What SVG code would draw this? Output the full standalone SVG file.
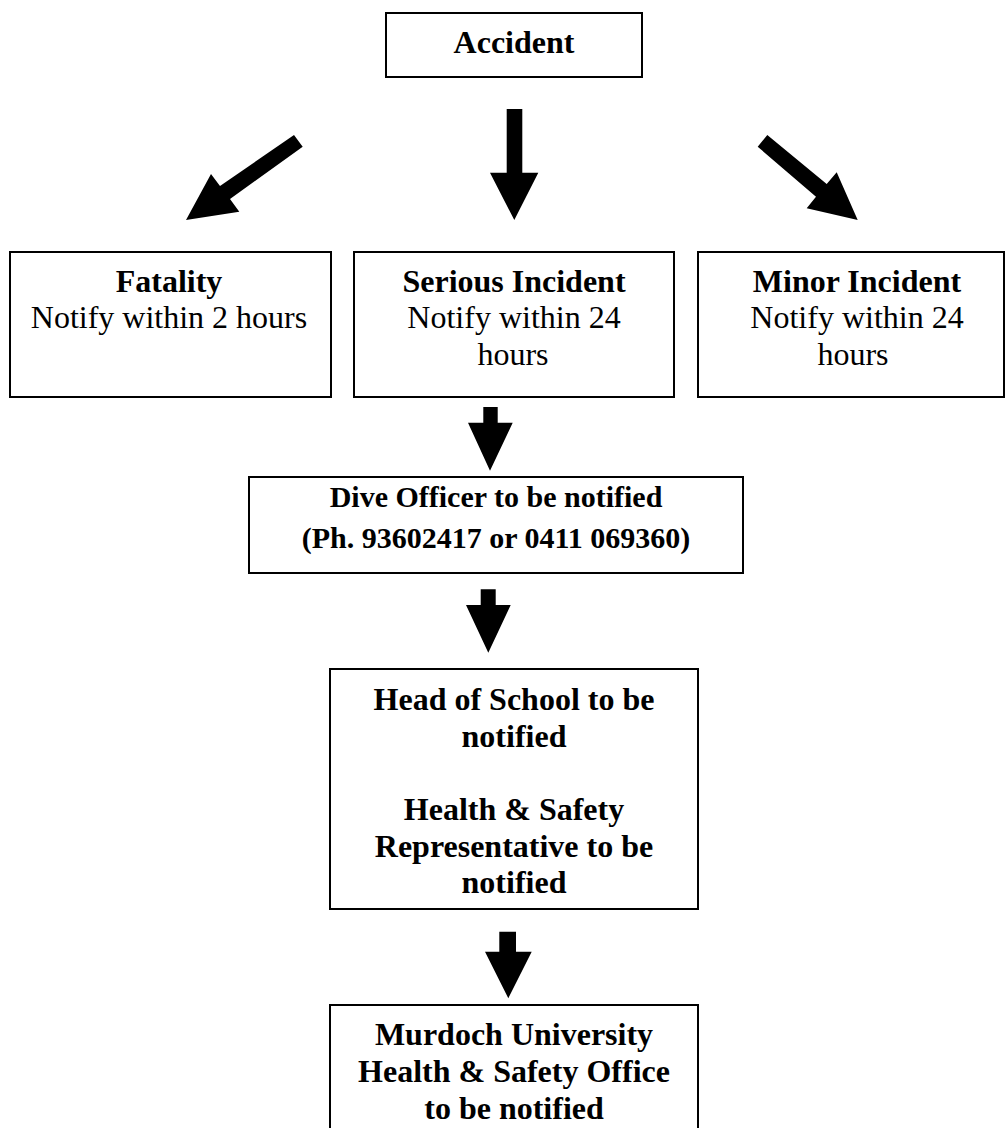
<svg xmlns="http://www.w3.org/2000/svg" width="1007" height="1128" viewBox="0 0 1007 1128">
<style>
.box{fill:#fff;stroke:#000;stroke-width:2}
text{font-family:"Liberation Serif","Times New Roman",serif;font-size:32px;fill:#000;text-anchor:middle}
.b{font-weight:bold}
.arr{fill:#000;stroke:none}
</style>
<g id="connectors">
<polygon class="arr" points="294,135 302.7,146.7 230,199 239.3,211.7 186,220 211,174 220,186"/>
<polygon class="arr" points="506.7,109 522.3,109 522.3,172.7 538.3,172.7 514.3,220 490,172.7 506.7,172.7"/>
<polygon class="arr" points="767.3,135 757.7,146.7 816,196.7 806.7,208.3 857.7,220 836.7,172.3 826.7,184"/>
<polygon class="arr" points="483.3,407 497.7,407 497.7,422.7 512.7,422.7 490,470.7 468,422.7 483.3,422.7"/>
<polygon class="arr" points="480.7,589.3 495.7,589.3 495.7,605 510.7,605 488.3,652.7 466,605 480.7,605"/>
<polygon class="arr" points="499.3,931.7 516,931.7 516,951.7 531.7,951.7 508.3,998.3 485,951.7 499.3,951.7"/>
</g>
<g id="accident">
<rect class="box" x="386" y="13" width="256" height="64"/>
<text class="b" x="514" y="53">Accident</text>
</g>
<g id="fatality">
<rect class="box" x="10" y="252" width="321" height="145"/>
<text class="b" x="169" y="292">Fatality</text>
<text x="169" y="328">Notify within 2 hours</text>
</g>
<g id="serious">
<rect class="box" x="354" y="252" width="320" height="145"/>
<text class="b" x="514" y="292">Serious Incident</text>
<text x="514" y="328">Notify within 24</text>
<text x="513" y="365">hours</text>
</g>
<g id="minor">
<rect class="box" x="698" y="252" width="306" height="145"/>
<text class="b" x="857" y="292">Minor Incident</text>
<text x="857" y="328">Notify within 24</text>
<text x="853" y="365">hours</text>
</g>
<g id="dive">
<rect class="box" x="249" y="477" width="494" height="96"/>
<text class="b" x="496" y="507" style="font-size:30px">Dive Officer to be notified</text>
<text class="b" x="496" y="548" style="font-size:30px">(Ph. 93602417 or 0411 069360)</text>
</g>
<g id="head">
<rect class="box" x="330" y="669" width="368" height="240"/>
<text class="b" x="514" y="710">Head of School to be</text>
<text class="b" x="514" y="747">notified</text>
<text class="b" x="514" y="820">Health &amp; Safety</text>
<text class="b" x="514" y="857">Representative to be</text>
<text class="b" x="514" y="893">notified</text>
</g>
<g id="murdoch">
<rect class="box" x="330" y="1005" width="368" height="140"/>
<text class="b" x="514" y="1045">Murdoch University</text>
<text class="b" x="514" y="1082">Health &amp; Safety Office</text>
<text class="b" x="514" y="1119">to be notified</text>
</g>
</svg>
